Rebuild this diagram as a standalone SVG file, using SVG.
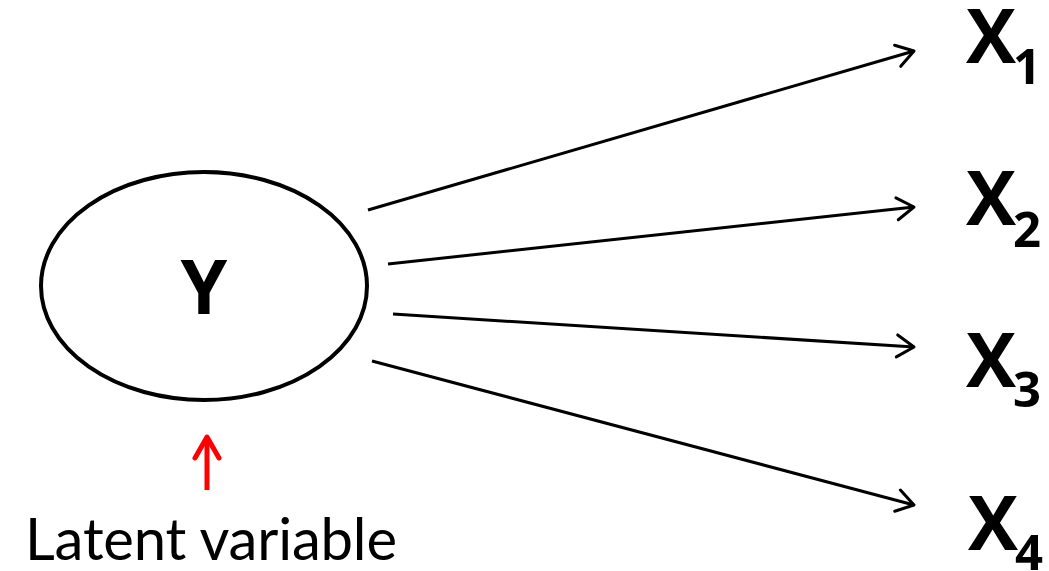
<svg xmlns="http://www.w3.org/2000/svg" width="1049" height="571" viewBox="0 0 1049 571">
  <defs>
    <style>
      .edge { stroke: #000; stroke-width: 3; fill: none; marker-end: url(#open); }
      .lbl { font-family: "Open Sans", "Liberation Sans", sans-serif; font-weight: bold; fill: #000; }
      .big { font-size: 75px; }
      .sub { font-size: 49px; }
      .note { font-family: Lato, "Liberation Sans", Arial, sans-serif; font-size: 58px; fill: #000; }
    </style>
    <marker id="open" markerUnits="userSpaceOnUse" viewBox="-20 -14 24 28" refX="0" refY="0" markerWidth="24" markerHeight="28" orient="auto">
      <path d="M-17,-11 L0,0 L-17,11" fill="none" stroke="#000" stroke-width="3" stroke-linecap="round" stroke-linejoin="round"/>
    </marker>
    <marker id="redhead" markerUnits="userSpaceOnUse" viewBox="-28 -18 32 36" refX="0" refY="0" markerWidth="32" markerHeight="36" orient="auto">
      <path d="M-21,-12 L0,0 L-21,12" fill="none" stroke="#ff0000" stroke-width="5" stroke-linecap="round" stroke-linejoin="round"/>
    </marker>
  </defs>
  <rect width="1049" height="571" fill="#fff"/>

  <g id="connectors">
    <line class="edge" x1="368" y1="210" x2="914" y2="51"/>
    <line class="edge" x1="388" y1="264" x2="914" y2="207"/>
    <line class="edge" x1="393" y1="314" x2="914" y2="347"/>
    <line class="edge" x1="372" y1="361" x2="914" y2="505"/>
  </g>

  <g id="node-Y">
    <ellipse cx="204" cy="286" rx="163" ry="114" fill="none" stroke="#000" stroke-width="4"/>
    <text class="lbl big" x="204" y="314" text-anchor="middle">Y</text>
  </g>

  <g id="node-X1">
    <text class="lbl big" x="966" y="63">X</text>
    <text class="lbl sub" x="1013" y="84">1</text>
  </g>
  <g id="node-X2">
    <text class="lbl big" x="966" y="225">X</text>
    <text class="lbl sub" x="1013" y="247">2</text>
  </g>
  <g id="node-X3">
    <text class="lbl big" x="966" y="387">X</text>
    <text class="lbl sub" x="1013" y="407">3</text>
  </g>
  <g id="node-X4">
    <text class="lbl big" x="968" y="550">X</text>
    <text class="lbl sub" x="1015" y="570">4</text>
  </g>

  <g id="annotation">
    <line x1="207" y1="490" x2="207" y2="437" stroke="#ff0000" stroke-width="5" marker-end="url(#redhead)"/>
    <text class="note" x="211" y="560" text-anchor="middle" textLength="372" lengthAdjust="spacing">Latent variable</text>
  </g>
</svg>
